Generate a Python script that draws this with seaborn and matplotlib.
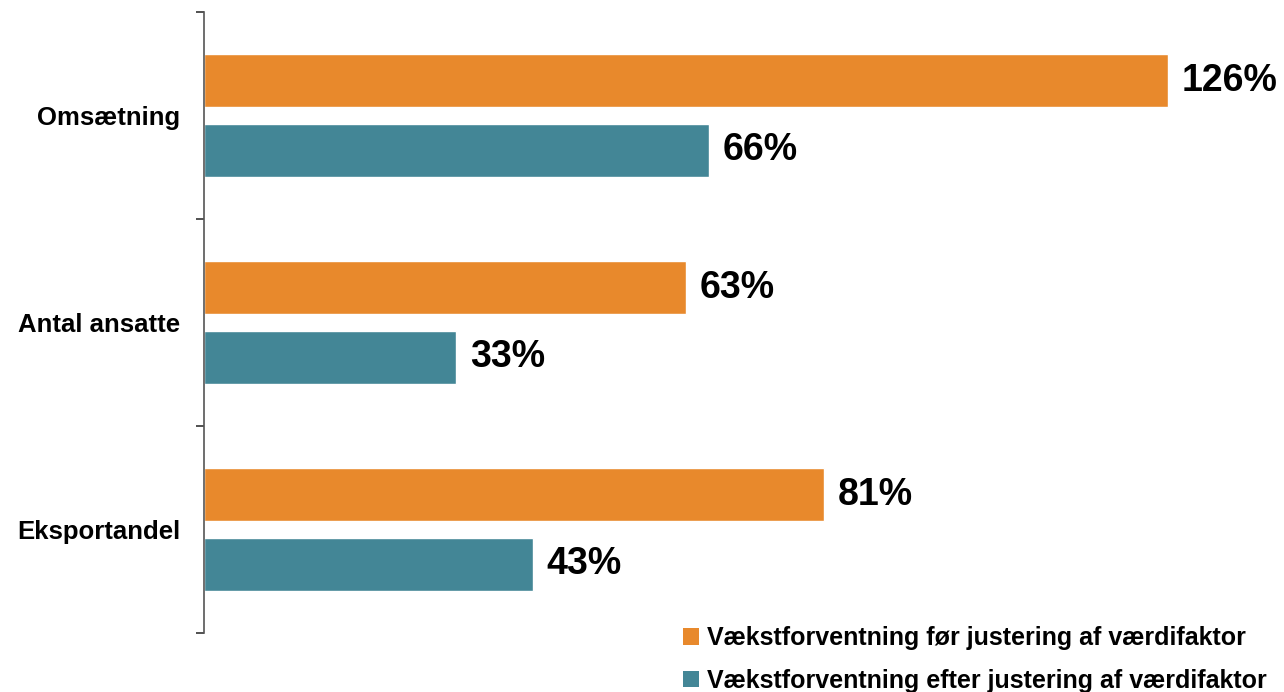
import pandas as pd
import matplotlib
matplotlib.use("Agg")
import matplotlib.pyplot as plt
import seaborn as sns
from matplotlib.patches import Patch

categories = ["Omsætning", "Antal ansatte", "Eksportandel"]
series_names = ["Vækstforventning før justering af værdifaktor",
                "Vækstforventning efter justering af værdifaktor"]
foer = [126, 63, 81]
efter = [66, 33, 43]
colors = ["#E8892C", "#438696"]

data = pd.DataFrame({
    "kategori": categories * 2,
    "serie": [series_names[0]] * 3 + [series_names[1]] * 3,
    "vaerdi": foer + efter,
})

sns.set_style("white")
plt.rcParams["font.family"] = ["Liberation Sans", "DejaVu Sans"]
plt.rcParams["font.weight"] = "bold"
plt.rcParams["text.color"] = "black"
plt.rcParams["ytick.color"] = "#333333"
plt.rcParams["ytick.labelcolor"] = "black"

fig = plt.figure(figsize=(12.84, 6.92), dpi=100)
ax = fig.add_axes([204 / 1284, 59 / 692, 1 - 204 / 1284, (633 - 12) / 692])

sns.barplot(data=data, y="kategori", x="vaerdi", hue="serie", orient="h",
            palette=colors, width=0.675, gap=0.24, ax=ax, legend=False,
            saturation=1)

# value labels at bar ends
for cont in ax.containers:
    ax.bar_label(cont, labels=[f"{v:.0f}%" for v in cont.datavalues],
                 padding=10, fontsize=27, fontweight="bold", color="black")

ax.set_xlim(0, 141.2)
ax.set_ylim(2.5, -0.5)
ax.set_xlabel("")
ax.set_ylabel("")
ax.set_xticks([])

# labels at centers, tick marks at category borders
ax.set_yticks([0, 1, 2])
ax.set_yticklabels(categories, fontsize=18.5, fontweight="bold", color="black")
ax.tick_params(axis="y", which="major", left=False, length=0, pad=17)
ax.set_yticks([-0.5, 0.5, 1.5, 2.5], minor=True)
ax.tick_params(axis="y", which="minor", left=True, length=6, width=1.2,
               color="#333333", direction="out")

for s in ["top", "right", "bottom"]:
    ax.spines[s].set_visible(False)
ax.spines["left"].set_color("#555555")
ax.spines["left"].set_linewidth(1.2)

handles = [Patch(facecolor=c, edgecolor="none") for c in colors]
fig.legend(handles, series_names, loc="upper left",
           bbox_to_anchor=(683 / 1284, 1 - 626 / 692), frameon=False,
           prop={"size": 18, "weight": "bold"}, handlelength=0.65, handleheight=0.65,
           handletextpad=0.3, labelspacing=0.75, borderaxespad=0, borderpad=0)

fig.savefig("out.png", dpi=100)
